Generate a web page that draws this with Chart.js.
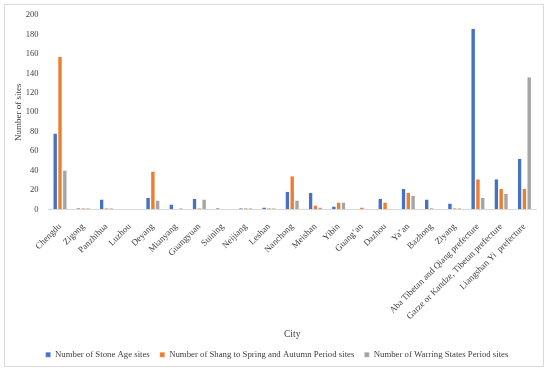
<!DOCTYPE html>
<html>
<head>
<meta charset="utf-8">
<script src="https://cdn.jsdelivr.net/npm/chart.js@4/dist/chart.umd.min.js"></script>
<style>
    html, body { margin: 0; padding: 0; background: #fff; }
    #wrap { width: 550px; height: 373px; position: relative; }
</style>
</head>
<body>
<div id="wrap"><canvas id="sitesChart"></canvas></div>
<script>
(function() {
    'use strict';

    const cities = [
        'Chengdu', 'Zigong', 'Panzhihua', 'Luzhou', 'Deyang', 'Mianyang', 'Guangyuan',
        'Suining', 'Neijiang', 'Leshan', 'Nanchong', 'Meishan', 'Yibin', 'Guang\u2019an',
        'Dazhou', 'Ya\u2019an', 'Bazhong', 'Ziyang', 'Aba Tibetan and Qiang prefecture',
        'Garze or Kandze, Tibetan prefecture', 'Liangshan Yi  prefecture'
    ];

    const stoneAge = [78, 1, 10, 0, 12, 5, 11, 1, 1, 2, 18, 17, 3, 0, 11, 21, 10, 6, 186, 31, 52];
    const shangToSpring = [157, 1, 1, 0, 39, 0, 1, 0, 1, 1, 34, 4, 7, 2, 7, 17, 1, 1, 31, 21, 21];
    const warringStates = [40, 1, 1, 0, 9, 1, 10, 0, 1, 1, 9, 2, 7, 0, 0, 14, 0, 1, 12, 16, 136];

    const seriesNames = [
        'Number of Stone Age sites',
        'Number of Shang to Spring and Autumn Period sites',
        'Number of Warring States Period sites'
    ];

    const FONT = "'Liberation Serif', 'Times New Roman', serif";

    // рамка вокруг всего графика, как в исходнике; легенду чуть сдвигаем вправо
    const frame = {
        id: 'frame',
        afterUpdate(chart) {
            if (chart.legend) {
                chart.legend.left += 7;
                chart.legend.right += 7;
            }
        },
        beforeDraw(chart) {
            const ctx = chart.ctx;
            ctx.save();
            ctx.fillStyle = '#fff';
            ctx.fillRect(0, 0, chart.width, chart.height);
            ctx.strokeStyle = '#d9d9d9';
            ctx.lineWidth = 1;
            ctx.strokeRect(4.5, 4.5, 539, 362);
            ctx.restore();
        }
    };

    function makeSet(label, data, color) {
        return {
            label: label,
            data: data,
            backgroundColor: color,
            borderColor: '#ffffff',
            borderWidth: { left: 0.5, right: 0.5, top: 0, bottom: 0 },
            categoryPercentage: 0.62,
            barPercentage: 0.92
        };
    }

    new Chart(document.getElementById('sitesChart'), {
        type: 'bar',
        data: {
            labels: cities,
            datasets: [
                makeSet(seriesNames[0], stoneAge, '#4472C4'),
                makeSet(seriesNames[1], shangToSpring, '#ED7D31'),
                makeSet(seriesNames[2], warringStates, '#A5A5A5')
            ]
        },
        options: {
            responsive: true,
            maintainAspectRatio: false,
            animation: false,
            layout: {
                padding: { left: 4, right: 14, top: 9, bottom: 4 }
            },
            plugins: {
                legend: {
                    position: 'bottom',
                    labels: {
                        font: { family: FONT, size: 8.75 },
                        color: '#404040',
                        boxWidth: 5,
                        boxHeight: 5,
                        padding: 10
                    }
                },
                tooltip: { enabled: false }
            },
            scales: {
                x: {
                    grid: { display: false },
                    border: { color: '#d9d9d9' },
                    afterFit: function(scale) {
                        // не даём первой повёрнутой подписи сдвигать область графика
                        scale.paddingLeft = 0;
                    },
                    ticks: {
                        autoSkip: false,
                        minRotation: 45,
                        maxRotation: 45,
                        font: { family: FONT, size: 9 },
                        color: '#404040',
                        padding: 4
                    },
                    title: {
                        display: true,
                        text: 'City',
                        font: { family: FONT, size: 9.5 },
                        color: '#404040',
                        padding: { top: 3, bottom: 0 }
                    }
                },
                y: {
                    min: 0,
                    max: 200,
                    grid: { display: false, drawTicks: false },
                    border: { display: false },
                    afterFit: function(scale) {
                        scale.width = 44.4;
                    },
                    ticks: {
                        stepSize: 20,
                        font: { family: FONT, size: 8.5 },
                        color: '#404040',
                        padding: 10
                    },
                    title: {
                        display: true,
                        text: 'Number of sites',
                        font: { family: FONT, size: 9 },
                        color: '#404040',
                        padding: { top: 9.6, bottom: 1.25 }
                    }
                }
            }
        },
        plugins: [frame]
    });
})();
</script>
</body>
</html>
